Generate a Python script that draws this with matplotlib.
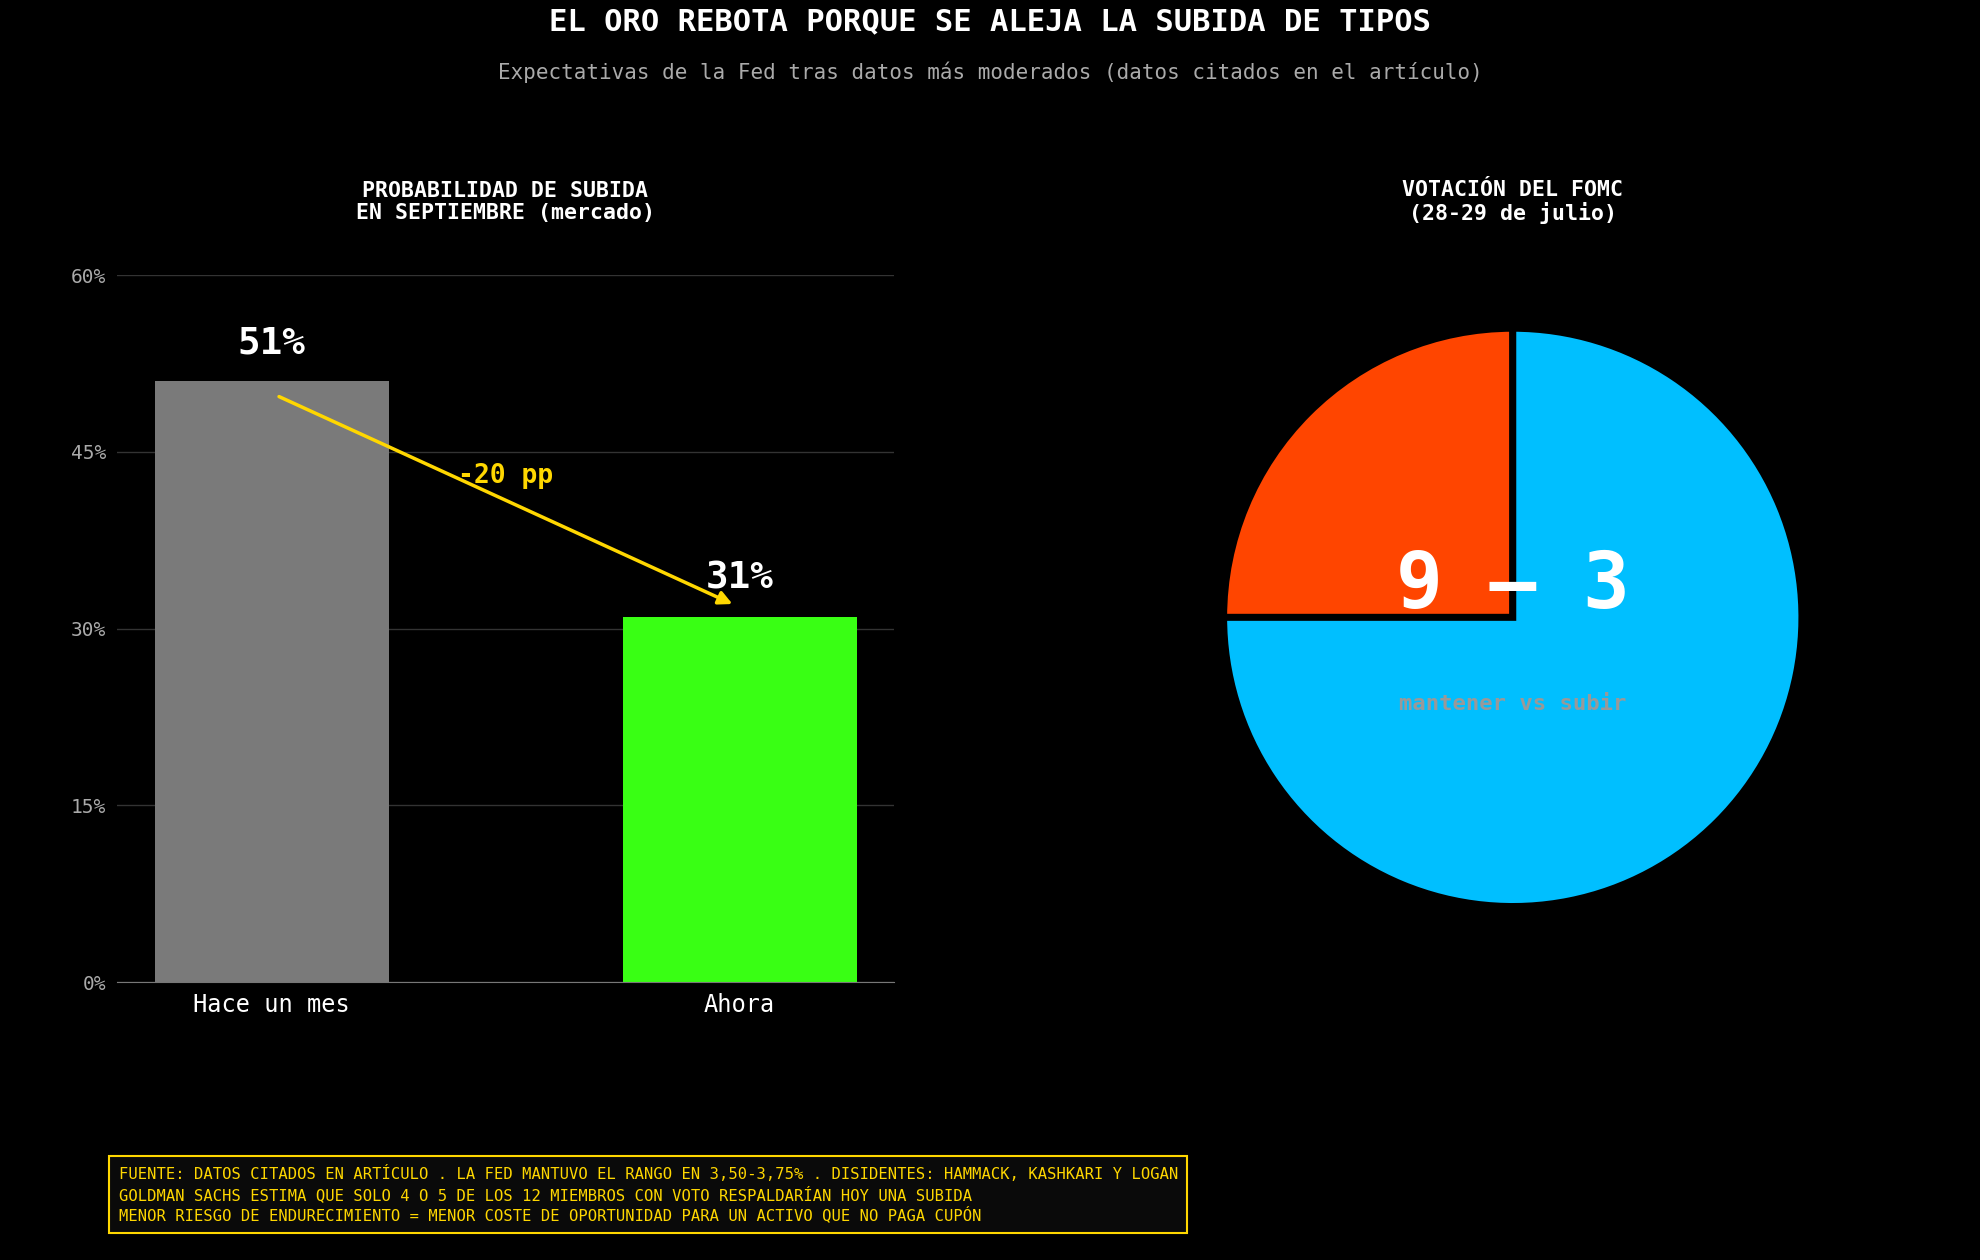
import matplotlib
matplotlib.use("Agg")
import matplotlib.pyplot as plt

plt.rcParams['font.family'] = ['DejaVu Sans Mono']

categories = ["Hace un mes", "Ahora"]
probs = [51, 31]
bar_colors = ["#7a7a7a", "#39ff14"]
vote_labels = ["subir", "mantener"]
votes = [3, 9]
vote_colors = ["#FF4500", "#00BFFF"]
yticks = [0, 15, 30, 45, 60]

fig = plt.figure(figsize=(19.8, 12.6), dpi=100, facecolor="black")
W, H = 1568, 998

ax = fig.add_axes([93/W, 1-778/H, (708-93)/W, (778-218)/H], facecolor="black")
ax.bar(range(len(categories)), probs, width=0.5, color=bar_colors, zorder=2)
ax.set_xlim(-0.33, 1.33)
ax.set_ylim(0, 60)
ax.set_yticks(yticks)
ax.set_yticklabels([f"{v}%" for v in yticks], color="#aaaaaa", fontsize=14)
ax.set_xticks(range(len(categories)))
ax.set_xticklabels(categories, color="white", fontsize=17)
ax.tick_params(length=0, pad=8)
ax.grid(axis="y", color="#333333", linewidth=1, zorder=0)
for s in ["top", "right", "left"]:
    ax.spines[s].set_visible(False)
ax.spines["bottom"].set_color("#777777")
for i, v in enumerate(probs):
    ax.text(i, v + 1.7, f"{v}%", ha="center", va="bottom", color="white",
            fontsize=27, fontweight="bold", clip_on=False)
ax.annotate("", xy=(0.99, 32), xytext=(0.01, 49.8),
            arrowprops=dict(arrowstyle="-|>", color="#FFD700", lw=2.5, mutation_scale=20))
ax.text(0.5, 43, f"-{probs[0]-probs[1]} pp", ha="center", va="center",
        color="#FFD700", fontsize=19, fontweight="bold")
fig.text(400/W, 1-160/H, "PROBABILIDAD DE SUBIDA\nEN SEPTIEMBRE (mercado)", ha="center",
         va="center", color="white", fontsize=15.5, fontweight="bold", linespacing=1.1)

r = 229
pax = fig.add_axes([(1198-r)/W, 1-(489+r)/H, 2*r/W, 2*r/H], facecolor="black")
pax.pie(votes, colors=vote_colors, startangle=90, counterclock=True,
        wedgeprops=dict(edgecolor="black", linewidth=5))
pax.set_xlim(-1, 1); pax.set_ylim(-1, 1)
pax.set_aspect("equal")
pax.axis("off")
pax.text(0, 0.11, f"{votes[1]} – {votes[0]}", ha="center", va="center", color="white",
         fontsize=56, fontweight="bold")
pax.text(0, -0.3, f"{vote_labels[1]} vs {vote_labels[0]}", ha="center", va="center",
         color="#999999", fontsize=16, fontweight="bold")
fig.text(1198/W, 1-160/H, "VOTACIÓN DEL FOMC\n(28-29 de julio)", ha="center", va="center",
         color="white", fontsize=15.5, fontweight="bold", linespacing=1.1)

fig.text(0.5, 1-17/H, "EL ORO REBOTA PORQUE SE ALEJA LA SUBIDA DE TIPOS", ha="center",
         va="center", color="white", fontsize=22, fontweight="bold")
fig.text(0.5, 1-57/H, "Expectativas de la Fed tras datos más moderados (datos citados en el artículo)",
         ha="center", va="center", color="#aaaaaa", fontsize=15)

footer = ("FUENTE: DATOS CITADOS EN ARTÍCULO . LA FED MANTUVO EL RANGO EN 3,50-3,75% . DISIDENTES: HAMMACK, KASHKARI Y LOGAN\n"
          "GOLDMAN SACHS ESTIMA QUE SOLO 4 O 5 DE LOS 12 MIEMBROS CON VOTO RESPALDARÍAN HOY UNA SUBIDA\n"
          "MENOR RIESGO DE ENDURECIMIENTO = MENOR COSTE DE OPORTUNIDAD PARA UN ACTIVO QUE NO PAGA CUPÓN")
fig.text(94/W, 1-946/H, footer, ha="left", va="center", color="#FFD700", fontsize=11.2,
         linespacing=1.25,
         bbox=dict(boxstyle="square,pad=0.6", facecolor="#0a0a0a", edgecolor="#FFD700", linewidth=1.5))

fig.savefig("out.png", facecolor="black")
